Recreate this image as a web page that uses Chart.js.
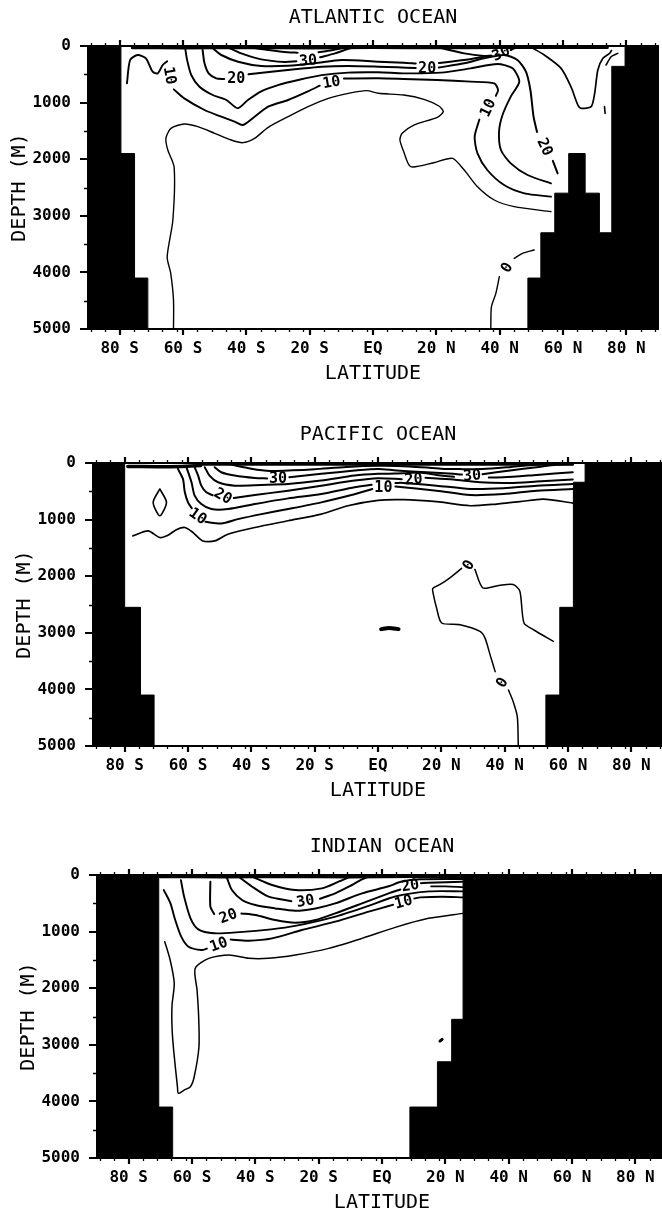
<!DOCTYPE html>
<html>
<head>
<meta charset="utf-8">
<script src="https://cdn.jsdelivr.net/npm/chart.js@4.4.1/dist/chart.umd.min.js"></script>
<style>
  html, body { margin: 0; padding: 0; background: #fff; width: 662px; height: 1212px; overflow: hidden; position: relative; }
  canvas { position: absolute; left: 0; }
</style>
</head>
<body>
<canvas id="atl" width="700" height="394" style="top:0px;width:700px;height:394px"></canvas>
<canvas id="pac" width="700" height="394" style="top:417px;width:700px;height:394px"></canvas>
<canvas id="ind" width="700" height="394" style="top:829px;width:700px;height:394px"></canvas>
<script>
// Ocean sections: depth (m) vs latitude, contours + model bottom topography

// Axis ticks
const latMajor = [-80, -60, -40, -20, 0, 20, 40, 60, 80]
const latMinor = [-89, -84.5, -75.5, -71, -66.5, -62, -55.5, -51, -46.5, -42, -35.5, -31, -26.5, -22,
  -15.5, -11, -6.5, -2, 4.5, 9, 13.5, 18, 24.5, 29, 33.5, 38, 44.5, 49, 53.5, 58, 64.5, 69, 73.5, 78, 84.5, 89]
const depthMajor = [0, 1000, 2000, 3000, 4000, 5000]
const depthMinor = [500, 1500, 2500, 3500, 4500]

// ---------- Atlantic ----------
const atlLandS = [[-90, 0], [-79.6, 1900], [-75.3, 4100], [-71.1, 5000]]
const atlLandN = [[48.9, 5000], [48.9, 4100], [53.0, 3300], [57.4, 2600], [61.8, 1900], [67.0, 2600], [71.5, 3300], [75.4, 360], [79.6, 0], [90, 0]]
const atlSurface = [[-76, 30], [-60, 35], [-40, 30], [-20, 35], [0, 28], [20, 32], [40, 28], [60, 28], [74, 28]]
const atlOuter = [[-63.0, 5000], [-63.0, 4490], [-63.9, 4010], [-65.0, 3730], [-63.2, 3075], [-62.8, 2140], [-64.8, 1838],
  [-65.4, 1632], [-63.8, 1455], [-59.6, 1378], [-55.3, 1425], [-50.0, 1543], [-44.8, 1661], [-41.1, 1708], [-37.4, 1632],
  [-33.1, 1437], [-26.8, 1249], [-20.5, 1072], [-14.1, 925], [-7.8, 836], [-2.0, 789], [1.7, 836], [9.7, 866], [16.1, 942],
  [20.8, 1060], [22.2, 1160], [20.3, 1260], [12.9, 1396], [9.2, 1543], [8.5, 1661], [9.7, 1867], [11.9, 2132], [19.2, 2062],
  [25.1, 1985], [28.8, 2191], [33.0, 2486], [38.3, 2721], [44.6, 2839], [56.2, 2927]]
const atlC10 = [[-77.7, 660], [-76.7, 247], [-74.3, 159], [-71.7, 218], [-69.6, 454], [-68.0, 483], [-66.4, 336], [-65.0, 270], null,
  [-62.9, 766], [-59.6, 925], [-53.2, 1131], [-47.9, 1249], [-43.7, 1337], [-41.1, 1396], [-37.4, 1249], [-33.1, 1072],
  [-26.8, 954], [-20.5, 800], [-16.8, 700], null, [-9.2, 575], [1.7, 571], [9.7, 583], [20.3, 601], [30.9, 630], [38.3, 660],
  [39.5, 778], [38.8, 880], null, [33.6, 1300], [32.1, 1602], [33.0, 1897], [36.1, 2191], [41.4, 2456], [47.8, 2603], [56.2, 2662]]
const atlC15 = [[-59.3, 41], [-58.7, 247], [-57.4, 512], [-54.8, 719], [-50.6, 866], [-46.3, 954], [-42.7, 1101], [-39.5, 954],
  [-35.3, 800], [-30.0, 690], [-23.6, 600], [-16.2, 515], [-7.8, 470], [1.7, 465], [9.7, 483], [21.4, 471], [30.9, 395],
  [39.3, 318], [44.1, 395], [46.2, 630], [43.5, 895], [40.9, 1219], [39.8, 1514], [40.4, 1838], [43.5, 2073], [48.8, 2279], [56.2, 2427]]
const atlC20 = [[-53.8, 71], [-53.2, 306], [-51.9, 483], [-49.5, 571], [-47.0, 583], null, [-39.3, 500], [-32.1, 454], [-24.7, 412],
  [-16.2, 365], [-7.8, 353], [1.7, 365], [7.6, 377], [13.5, 390], null, [20.8, 380], [28.8, 306], [35.1, 218], [41.4, 159],
  [45.6, 247], [48.3, 454], [49.7, 778], [50.7, 1249], [51.8, 1520], null, [56.8, 2030], [58.3, 2250]]
const atlC25 = [[-50.6, 41], [-47.9, 159], [-42.6, 277], [-35.3, 353], [-26.8, 350], [-18.4, 306], [-9.9, 247], [1.7, 277],
  [9.7, 295], [13.5, 310], null, [20.8, 300], [28.8, 247], [35.1, 189], [37.5, 175]]
const atlC30a = [[-45.8, 24], [-41.6, 130], [-35.3, 236], [-27.9, 283], [-24.2, 271], null, [-16.7, 200], [-12.0, 130], [-8.3, 59], [-5.7, 12]]
const atlC30b = [[20.3, 20], [28.8, 130], [35.1, 177], [37.3, 168], null, [43.5, 71], [45.6, 12]]
const atlC35a = [[-40, 15], [-33, 70], [-27, 110], [-23.8, 118]]
const atlC35b = [[-17.2, 110], [-13, 75], [-9, 25]]
const atlCnorth = [[50.5, 40], [54.1, 159], [59.4, 395], [62.5, 719], [64.7, 1043], [65.7, 1101], [68.9, 1072], [70.0, 836],
  [71.0, 424], [72.6, 218], [74.7, 130], [75.3, 80]]
const atlCnorth2 = [[73.6, 336], [75.2, 189], [77.3, 130]]
const atlCnorth3 = [[73.1, 1072], [73.3, 1190]]
const atlC0 = [[50.9, 3605], [47.2, 3664], [44.6, 3752], null, [39.9, 4076], [38.8, 4370], [37.4, 4606], [37.2, 5000]]
const atlLabels = [[-20.5, 250, '30', -5], [40.4, 125, '30', -25], [-43.2, 560, '20', 0], [17.1, 395, '20', 0],
  [54.4, 1780, '20', 65], [-64.1, 520, '10', 80], [-13.1, 635, '10', -10], [36.2, 1090, '10', -65], [42.2, 3910, '0', -60]]

// ---------- Pacific ----------
const pacLandS = [[-90, 0], [-80.0, 2550], [-75.0, 4100], [-70.7, 5000]]
const pacLandN = [[53.0, 5000], [53.0, 4100], [57.4, 2550], [61.7, 340], [65.4, 0], [90, 0]]
const pacSurface = [[-79, 60], [-70, 65], [-62, 60], [-56, 45]]
const pacTop = [[-56, 25], [-30, 28], [0, 25], [30, 28], [61.5, 25]]
const pacOuter = [[-77.4, 1288], [-72.6, 1199], [-68.9, 1317], [-66.3, 1276], [-63.7, 1181], [-61.0, 1140], [-58.4, 1229],
  [-55.3, 1377], [-51.6, 1377], [-47.4, 1258], [-38.9, 1140], [-28.4, 1021], [-17.9, 903], [-9.5, 755], [0, 660], [8.0, 648],
  [18.5, 684], [29.1, 755], [37.5, 725], [44.8, 684], [52.2, 637], [61.5, 708]]
const pacC10 = [[-63.2, 104], [-61.6, 281], [-61.0, 518], [-60.0, 696], [-58.8, 800], null, [-54.5, 1040], [-49.5, 1069],
  [-44.2, 992], [-36.8, 903], [-28.4, 814], [-17.9, 696], [-8.4, 566], [-1.8, 460], null, [5.5, 415], [18.5, 489], [29.1, 566],
  [39.6, 548], [50.1, 489], [61.5, 459]]
const pacC15 = [[-60.5, 74], [-58.9, 341], [-57.9, 577], [-55.8, 725], [-52.6, 814], [-47.4, 814], [-38.9, 725], [-28.4, 625],
  [-17.9, 548], [-7.4, 429], [-2.0, 385], null, [5.5, 352], [8.0, 352], [18.5, 400], [29.1, 459], [39.6, 447], [50.1, 400], [61.5, 370]]
const pacC20 = [[-57.9, 74], [-56.8, 222], [-55.8, 400], [-54.2, 518], [-52.2, 570], null, [-45.5, 620], [-38.9, 566], [-28.4, 489],
  [-17.9, 400], [-7.4, 311], [0, 270], [7.5, 285], null, [15.0, 262], [23.8, 293], [32.2, 341], [41.7, 352], [50.1, 329], [61.5, 293]]
const pacC25 = [[-54.7, 74], [-53.2, 222], [-50.5, 341], [-45.3, 400], [-36.8, 388], [-28.4, 372], [-17.9, 311], [-7.4, 222],
  [0, 192], [8.0, 180], [13.0, 170], [18.5, 210], [24.0, 245], null, [35.0, 255], [39.6, 252], [50.1, 210], [61.5, 163]]
const pacC30 = [[-51.6, 74], [-49.5, 163], [-45.3, 222], [-38.9, 265], [-35.0, 272], null, [-28.0, 250], [-17.9, 192], [-7.4, 133],
  [0, 104], [5.9, 133], [15.4, 163], [23.8, 192], [26.5, 205], null, [33.0, 198], [41.7, 133], [50.1, 74], [56.4, 30], [61.5, 20]]
const pacC35 = [[-47.0, 20], [-40.0, 100], [-34.0, 140], [-27.0, 130], [-20.0, 110], [-10.0, 70], [0, 50], [10.0, 60],
  [20.0, 100], [26.0, 108], [33.0, 108], [42.0, 70], [50.0, 30], [58.0, 10]]
const pacDiamond = [[-68.9, 459], [-66.8, 696], [-68.9, 933], [-71.0, 696], [-68.9, 459]]
const pacC0a = [[26.4, 1862], [22.7, 2028], [19.6, 2146], [17.3, 2217], [17.5, 2324], [18.5, 2561], [20.1, 2827], [25.9, 2857],
  [32.2, 2975], [33.8, 3094], [35.4, 3390], [37.0, 3686], null, [41.2, 4011], [42.7, 4218], [44.0, 4485], [44.3, 5000]]
const pacC0b = [[30.6, 1880], [33.1, 2206], [38.5, 2158], [42.7, 2146], [44.8, 2265], [46.1, 2827], [49.1, 2946], [55.4, 3153]]
const pacBlob = [[1.0, 2935], [3.5, 2915], [6.5, 2935]]
const pacLabels = [[-31.6, 270, '30', 0], [29.7, 215, '30', -5], [-48.9, 577, '20', 30], [11.2, 281, '20', -5],
  [-56.8, 933, '10', 35], [1.7, 429, '10', 0], [28.5, 1800, '0', -60], [39.1, 3875, '0', -60]]

// ---------- Indian ----------
const indLandS = [[-90, 0], [-70.5, 4100], [-66.1, 5000]]
const indLandN = [[8.8, 5000], [8.8, 4100], [17.5, 3300], [22.0, 2550], [25.6, 0], [90, 0]]
const indSurface = [[-70, 30], [-50, 35], [-30, 30], [-10, 35], [10, 28], [25.5, 28]]
const indOuter = [[-68.6, 1178], [-66.9, 1502], [-65.6, 1915], [-66.3, 2300], [-66.3, 2700], [-65.8, 3091], [-64.6, 3740],
  [-64.3, 3858], [-62.5, 3800], [-60.5, 3740], [-59.3, 3564], [-57.8, 3034], [-57.9, 2500], [-58.4, 2032], [-59.0, 1650],
  [-54.7, 1473], [-48.4, 1414], [-42.1, 1473], [-35.8, 1473], [-27.4, 1414], [-16.8, 1296], [-6.3, 1120], [4.2, 925],
  [14.7, 766], [25.5, 678]]
const indC10 = [[-68.9, 266], [-66.8, 501], [-65.3, 796], [-63.4, 1090], [-61.1, 1267], [-56.9, 1326], [-55.3, 1300], null,
  [-47.8, 1140], [-42.1, 1161], [-34.7, 1120], [-25.3, 972], [-14.8, 825], [-4.2, 648], [2.1, 548], [3.5, 525], null,
  [10.2, 415], [12.1, 395], [19.0, 383], [25.5, 395]]
const indC15 = [[-63.5, 90], [-62.5, 380], [-60.5, 760], [-58.0, 960], [-53.0, 1030], [-45.0, 1010], [-35.0, 960], [-27.4, 900],
  [-15.0, 740], [-5.0, 560], [4.5, 375], [15.0, 290], [25.5, 290]]
const indC20 = [[-54.2, 118], [-54.2, 560], [-53.0, 690], null, [-44.4, 680], [-40.0, 707], [-33.7, 796], [-27.4, 843],
  [-21.0, 796], [-14.8, 678], [-6.3, 501], [2.1, 324], [5.8, 255], null, [12.3, 145], [14.7, 136], [25.5, 118]]
const indC25 = [[-48.9, 59], [-47.4, 266], [-44.2, 442], [-40.0, 531], [-33.7, 590], [-27.4, 631], [-21.0, 590], [-14.8, 501],
  [-6.3, 324], [2.1, 200], [6.0, 120], [12.0, 75], [25.5, 70]]
const indC30 = [[-45.3, 30], [-41.0, 207], [-35.8, 383], [-28.6, 462], null, [-19.6, 420], [-14.8, 324], [-10.5, 207], [-6.3, 77], [-4.2, 30]]
const indC35 = [[-41.0, 30], [-34.7, 177], [-27.4, 266], [-19.0, 236], [-13.7, 118], [-10.5, 42]]
const indCnorth = [[15.5, 200], [20.0, 200], [25.5, 215]]
const indDot = [[18.3, 2935], [19.0, 2905]]
const indLabels = [[-24.2, 454, '30', -10], [-48.6, 720, '20', -20], [8.9, 180, '20', -10], [-51.6, 1220, '10', -20], [6.8, 470, '10', -15]]

const FONT = "'DejaVu Sans Mono', 'Liberation Mono', monospace"

const panels = [
  {
    id: 'atl', title: 'ATLANTIC OCEAN', left: 88, right: 658,
    land: [atlLandS, atlLandN],
    lines: [[atlSurface, 3], [atlOuter, 1.4], [atlC10, 1.9], [atlC15, 1.9], [atlC20, 2], [atlC25, 2], [atlC30a, 2],
      [atlC30b, 2], [atlC35a, 2], [atlC35b, 2], [atlCnorth, 1.7], [atlCnorth2, 1.6], [atlCnorth3, 1.6], [atlC0, 1.4]],
    labels: atlLabels,
  },
  {
    id: 'pac', title: 'PACIFIC OCEAN', left: 93, right: 663,
    land: [pacLandS, pacLandN],
    lines: [[pacSurface, 3.5], [pacTop, 2.5], [pacOuter, 1.7], [pacC10, 2], [pacC15, 2], [pacC20, 2], [pacC25, 2], [pacC30, 2],
      [pacC35, 2], [pacDiamond, 1.6], [pacC0a, 1.5], [pacC0b, 1.5], [pacBlob, 4]],
    labels: pacLabels,
  },
  {
    id: 'ind', title: 'INDIAN OCEAN', left: 97, right: 667,
    land: [indLandS, indLandN],
    lines: [[indSurface, 3], [indOuter, 1.5], [indC10, 1.9], [indC15, 1.9], [indC20, 2], [indC25, 2], [indC30, 2],
      [indC35, 2], [indCnorth, 1.8], [indDot, 3]],
    labels: indLabels,
  },
]

function toPoints(arr) {
  let lastX = 0
  return arr.map((p) => {
    if (!p) return { x: lastX, y: null }
    lastX = p[0]
    return { x: p[0], y: p[1] }
  })
}

// bottom topography: each point's depth holds until the next latitude
function landSet(pts) {
  return {
    data: toPoints(pts),
    stepped: 'before',
    fill: { value: 5000 },
    backgroundColor: '#000',
    borderColor: '#000',
    borderWidth: 1,
  }
}

function lineSet(pts, w) {
  return {
    data: toPoints(pts),
    fill: false,
    borderColor: '#000',
    borderWidth: w,
    tension: 0.25,
    borderJoinStyle: 'round',
    borderCapStyle: 'round',
  }
}

function fmtLat(v) {
  if (v === 0) return 'EQ'
  return v < 0 ? `${-v} S` : `${v} N`
}

// Frame and tick marks on all sides
const framePlugin = {
  id: 'frame',
  afterDatasetsDraw(chart) {
    const { ctx, chartArea: a, scales: { x, y } } = chart
    ctx.save()
    ctx.strokeStyle = '#000'
    ctx.lineWidth = 2
    ctx.strokeRect(a.left, a.top, a.right - a.left, a.bottom - a.top)

    ctx.lineWidth = 1.3
    ctx.beginPath()
    latMinor.forEach((v) => {
      const px = Math.round(x.getPixelForValue(v)) + 0.5
      ctx.moveTo(px, a.top); ctx.lineTo(px, a.top - 3)
      ctx.moveTo(px, a.bottom); ctx.lineTo(px, a.bottom + 3)
    })
    depthMinor.forEach((v) => {
      const py = Math.round(y.getPixelForValue(v)) + 0.5
      ctx.moveTo(a.left, py); ctx.lineTo(a.left - 4, py)
      ctx.moveTo(a.right, py); ctx.lineTo(a.right - 4, py)
    })
    ctx.stroke()

    ctx.lineWidth = 2.2
    ctx.beginPath()
    latMajor.forEach((v) => {
      const px = Math.round(x.getPixelForValue(v))
      ctx.moveTo(px, a.top); ctx.lineTo(px, a.top - 6)
      ctx.moveTo(px, a.bottom); ctx.lineTo(px, a.bottom + 6)
    })
    depthMajor.forEach((v) => {
      const py = Math.round(y.getPixelForValue(v))
      ctx.moveTo(a.left, py); ctx.lineTo(a.left - 8, py)
    })
    ctx.stroke()
    ctx.restore()
  },
}

// Inline contour value labels
const contourLabels = {
  id: 'contourLabels',
  afterDatasetsDraw(chart, args, opts) {
    const { ctx, scales: { x, y } } = chart
    ctx.save()
    ctx.fillStyle = '#000'
    ctx.font = `bold 15px ${FONT}`
    ctx.textAlign = 'center'
    ctx.textBaseline = 'middle'
    ;(opts.items || []).forEach(([lat, depth, text, rot]) => {
      ctx.save()
      ctx.translate(x.getPixelForValue(lat), y.getPixelForValue(depth))
      ctx.rotate((rot * Math.PI) / 180)
      ctx.fillText(text, 0, 1)
      ctx.restore()
    })
    ctx.restore()
  },
}

// Panel title above the plot
const panelTitle = {
  id: 'panelTitle',
  afterDraw(chart, args, opts) {
    const { ctx, chartArea: a } = chart
    ctx.save()
    ctx.fillStyle = '#000'
    ctx.font = `20px ${FONT}`
    ctx.textAlign = 'center'
    ctx.textBaseline = 'middle'
    ctx.fillText(opts.text, (a.left + a.right) / 2, a.top - 28)
    ctx.restore()
  },
}

function makePanel(p) {
  const datasets = [...p.land.map(landSet), ...p.lines.map(([pts, w]) => lineSet(pts, w))]
  return new Chart(document.getElementById(p.id), {
    type: 'line',
    data: { datasets },
    options: {
      responsive: false,
      animation: false,
      events: [],
      layout: { padding: { left: 0, right: 700 - p.right, top: 46, bottom: 0 } },
      elements: { point: { radius: 0, hoverRadius: 0 } },
      plugins: {
        legend: { display: false },
        tooltip: { enabled: false },
        contourLabels: { items: p.labels },
        panelTitle: { text: p.title },
      },
      scales: {
        x: {
          type: 'linear',
          min: -90,
          max: 90,
          afterBuildTicks: (s) => { s.ticks = latMajor.map((v) => ({ value: v })) },
          afterFit: (s) => { s.height = 65 },
          grid: { display: false },
          border: { display: false },
          ticks: {
            callback: (v) => fmtLat(v),
            autoSkip: false,
            maxRotation: 0,
            minRotation: 0,
            padding: 2,
            color: '#000',
            font: { family: FONT, size: 16, weight: 'bold' },
          },
          title: {
            display: true,
            text: 'LATITUDE',
            color: '#000',
            font: { family: FONT, size: 20 },
            padding: { top: 0, bottom: 8 },
          },
        },
        y: {
          type: 'linear',
          reverse: true,
          min: 0,
          max: 5000,
          afterBuildTicks: (s) => { s.ticks = depthMajor.map((v) => ({ value: v })) },
          afterFit: (s) => { s.width = p.left },
          grid: { display: false },
          border: { display: false },
          ticks: {
            callback: (v) => String(v),
            padding: 9,
            color: '#000',
            font: { family: FONT, size: 16, weight: 'bold' },
          },
          title: {
            display: true,
            text: 'DEPTH (M)',
            color: '#000',
            font: { family: FONT, size: 20 },
            padding: { top: p.left - 80, bottom: 0 },
          },
        },
      },
    },
    plugins: [framePlugin, contourLabels, panelTitle],
  })
}

panels.forEach(makePanel)
</script>
</body>
</html>
